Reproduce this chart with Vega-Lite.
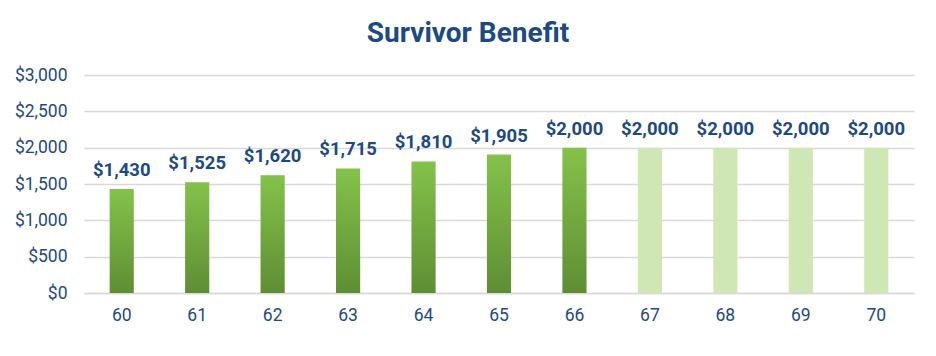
{
  "$schema": "https://vega.github.io/schema/vega-lite/v6.json",
  "autosize": "none",
  "width": 830,
  "height": 218,
  "padding": {"left": 84, "top": 75, "right": 22, "bottom": 63},
  "background": "white",
  "title": {
    "text": "Survivor Benefit",
    "font": "Roboto",
    "fontSize": 28,
    "fontWeight": "bold",
    "color": "#1d4a80",
    "anchor": "middle",
    "dx": -31,
    "offset": 18
  },
  "config": {
    "view": {"stroke": null},
    "font": "Roboto"
  },
  "data": {
    "values": [
      {"age": "60", "benefit": 1430, "phase": "actual"},
      {"age": "61", "benefit": 1525, "phase": "actual"},
      {"age": "62", "benefit": 1620, "phase": "actual"},
      {"age": "63", "benefit": 1715, "phase": "actual"},
      {"age": "64", "benefit": 1810, "phase": "actual"},
      {"age": "65", "benefit": 1905, "phase": "actual"},
      {"age": "66", "benefit": 2000, "phase": "actual"},
      {"age": "67", "benefit": 2000, "phase": "later"},
      {"age": "68", "benefit": 2000, "phase": "later"},
      {"age": "69", "benefit": 2000, "phase": "later"},
      {"age": "70", "benefit": 2000, "phase": "later"}
    ]
  },
  "encoding": {
    "x": {
      "field": "age",
      "type": "ordinal",
      "scale": {"paddingInner": 0.68, "paddingOuter": 0.34},
      "axis": {
        "title": null,
        "labelAngle": 0,
        "labelFont": "Roboto",
        "labelFontSize": 17.5,
        "labelColor": "#1d4a80",
        "labelPadding": 13,
        "ticks": false,
        "domainColor": "#d9d9d9",
        "domainWidth": 1.5
      }
    },
    "y": {
      "field": "benefit",
      "type": "quantitative",
      "scale": {"domain": [0, 3000]},
      "axis": {
        "title": null,
        "values": [0, 500, 1000, 1500, 2000, 2500, 3000],
        "format": "$,.0f",
        "labelFont": "Roboto",
        "labelFontSize": 17.5,
        "labelColor": "#1d4a80",
        "labelPadding": 17,
        "ticks": false,
        "domain": false,
        "gridColor": "#d9d9d9",
        "gridWidth": 1.5
      }
    }
  },
  "layer": [
    {
      "transform": [{"filter": "datum.phase === 'actual'"}],
      "mark": {
        "type": "bar",
        "color": {
          "gradient": "linear",
          "x1": 0, "y1": 0, "x2": 0, "y2": 1,
          "stops": [
            {"offset": 0, "color": "#84c24a"},
            {"offset": 1, "color": "#5e8e33"}
          ]
        }
      }
    },
    {
      "transform": [{"filter": "datum.phase === 'later'"}],
      "mark": {"type": "bar", "color": "#cfe6b5"}
    },
    {
      "mark": {
        "type": "text",
        "baseline": "bottom",
        "dy": -9,
        "font": "Roboto",
        "fontSize": 18.5,
        "fontWeight": "bold",
        "color": "#1d4a80"
      },
      "encoding": {
        "text": {"field": "benefit", "type": "quantitative", "format": "$,.0f"}
      }
    }
  ]
}
